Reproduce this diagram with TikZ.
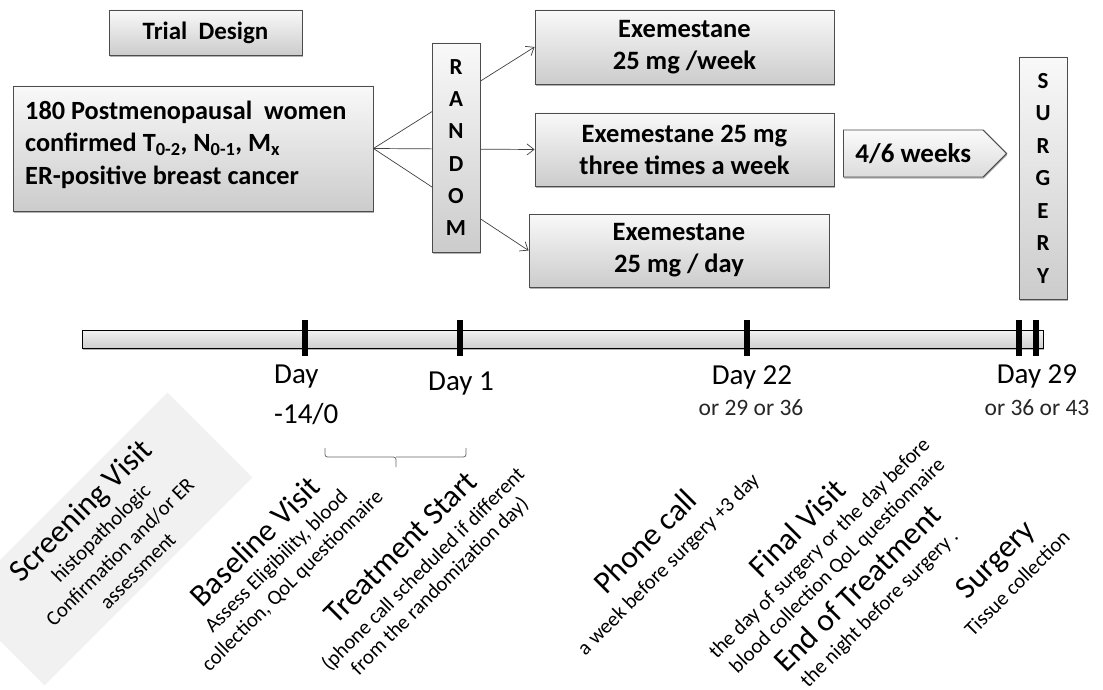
\documentclass[tikz,border=0pt]{standalone}
\usepackage{fontspec}
\setmainfont{Carlito}
\usetikzlibrary{shadows,shapes.symbols,arrows.meta}
\newcommand\myfs[2]{\fontsize{#1}{#2}\selectfont}
\begin{document}
\begin{tikzpicture}[x=1pt,y=-1pt,
 boxs/.style={draw=black!70, line width=0.9pt, top color=gray!5, bottom color=gray!40,
   drop shadow={shadow xshift=0.6pt,shadow yshift=-1.6pt,opacity=0.5,fill=black!60},
   font=\bfseries\myfs{26.5}{32}, align=center, inner sep=0pt},
 vbox/.style={boxs, font=\bfseries\myfs{23}{32.3}, minimum width=48pt},
 arr/.style={-{Straight Barb[length=7pt,width=11pt]}, line width=0.7pt, draw=black!75},
 tickmark/.style={fill=black, inner sep=0pt, minimum width=6.5pt, minimum height=36pt},
 daylbl/.style={font=\myfs{29}{34}, inner sep=0pt},
 sublbl/.style={font=\myfs{23.5}{28}, inner sep=0pt, text=black!85},
 rtitle/.style={font=\myfs{31.5}{36}, rotate=45, inner sep=0pt},
 rsmall/.style={font=\myfs{20.8}{25}, rotate=45, inner sep=0pt},
 bracest/.style={draw=black!60, line width=0.8pt, rounded corners=2.5pt},
]
\useasboundingbox (0,0) rectangle (1103,690);

% top boxes
\node[boxs, minimum width=193pt, minimum height=45pt, font=\bfseries\myfs{25}{30}] (trial) at (205.5,32.5) {Trial\ \ Design};
\node[boxs, minimum width=360pt, minimum height=125pt] (pop) at (193,148.5) {};
\node[font=\bfseries\myfs{26.3}{32.5}, align=left, inner sep=0pt, anchor=north west] (poptext) at (25,100.5)
  {180 Postmenopausal\ \ women\\confirmed T\textsubscript{0-2}, N\textsubscript{0-1}, M\textsubscript{x}\\ER-positive breast cancer};
\node[boxs, minimum width=299pt, minimum height=74pt] (ex1) at (684.5,47) {Exemestane\\25 mg /week};
\node[boxs, minimum width=299pt, minimum height=73pt] (ex2) at (684.5,149.5) {Exemestane 25 mg\\three times a week};
\node[boxs, minimum width=300pt, minimum height=73pt] (ex3) at (679,250.5) {Exemestane\\25 mg / day};

\draw[arr] (pop.east) -- (ex1.west);
\draw[arr] (pop.east) -- (ex2.west);
\draw[arr] (pop.east) -- (ex3.west);

\node[vbox, minimum height=209pt] (random) at (456,147.5) {R\\A\\N\\D\\O\\M};
\node[boxs, shape=signal, signal to=east, signal pointer angle=90, minimum height=47pt,
  inner xsep=12pt, anchor=west, top color=gray!3, bottom color=gray!28, font=\bfseries\myfs{27}{30}] (weeks) at (843,153.5) {4/6 weeks};
\node[vbox, minimum height=242pt, font=\bfseries\myfs{23}{32.5}] (surgery) at (1043,178) {S\\U\\R\\G\\E\\R\\Y};

% screening background
\node[rotate=45, fill=gray!11, minimum width=294pt, minimum height=120pt, inner sep=0pt] (scrbox) at (106,539) {};

% timeline
\node[draw=black, line width=0.9pt, top color=gray!10, bottom color=gray!38,
  drop shadow={shadow xshift=0.5pt,shadow yshift=-1.5pt,opacity=0.5,fill=black!60},
  minimum width=961pt, minimum height=18pt, inner sep=0pt] (bar) at (562.5,339) {};
\node[tickmark] (t1) at (305,338) {};
\node[tickmark] (t2) at (460,338) {};
\node[tickmark] (t3) at (747,338) {};
\node[tickmark] (t4) at (1019,338) {};
\node[tickmark] (t5) at (1036,338) {};

% day labels
\node[daylbl, anchor=west] (dA) at (274,377) {Day};
\node[daylbl, anchor=west] (dB) at (274,414) {-14/0};
\node[daylbl] (d1) at (461,384) {Day 1};
\node[daylbl] (d22) at (752,377) {Day 22};
\node[sublbl] (d22b) at (751,408) {or 29 or 36};
\node[daylbl] (d29) at (1037,376) {Day 29};
\node[sublbl] (d29b) at (1037,408) {or 36 or 43};

% brace
\coordinate (brL) at (325,448);
\coordinate (brR) at (466,448);
\coordinate (brM) at (396,457);
\coordinate (brT) at (396,467);
\draw[bracest] (brL) |- (brM) -- (brT);
\draw[bracest] (brR) |- (brM);

% rotated descriptions
\node[rtitle] (scrT) at (82,512) {Screening Visit};
\node[rsmall] (scr1) at (102,534) {histopathologic};
\node[rsmall] (scr2) at (120,552) {Confirmation and/or ER};
\node[rsmall] (scr3) at (138,571) {assessment};

\node[rtitle] (basT) at (255,541) {Baseline Visit};
\node[rsmall] (bas1) at (277,562) {Assess Eligibility, blood};
\node[rsmall] (bas2) at (293,581) {collection, QoL questionnaire};

\node[rtitle] (trtT) at (400.5,547.5) {Treatment Start};
\node[rsmall] (trt1) at (423.5,569.5) {(phone call scheduled if different};
\node[rsmall] (trt2) at (440,586.5) {from the randomization day)};

\node[rtitle] (phT) at (645,541) {Phone call};
\node[rsmall] (ph1) at (669,565) {a week before surgery +3 day};

\node[rtitle] (fvT) at (797,528) {Final Visit};
\node[rsmall] (fv1) at (820,549) {the day of surgery or the day before};
\node[rsmall] (fv2) at (838,566) {blood collection QoL questionnaire};
\node[rtitle] (eotT) at (857,588) {End of Treatment};
\node[rsmall] (eot1) at (880,609) {the night before surgery .};

\node[rtitle] (srgT) at (997,561) {Surgery};
\node[rsmall] (srg1) at (1017,583) {Tissue collection};
\end{tikzpicture}
\end{document}
